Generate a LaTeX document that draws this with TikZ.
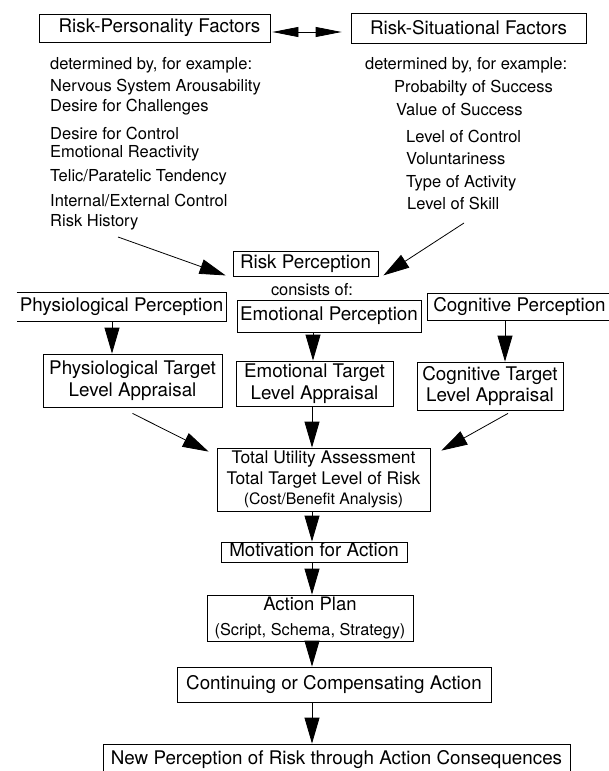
\documentclass[tikz,border=0pt]{standalone}
\usepackage{fontspec}
\setmainfont{TeX Gyre Heros}
\usetikzlibrary{arrows.meta,calc}
\begin{document}
\begin{tikzpicture}[x=1pt,y=-1pt,
  box/.style={draw, line width=0.8pt, inner sep=0pt, align=center,
    font=\fontsize{18.8}{21.5}\selectfont},
  lst/.style={anchor=west, inner sep=0pt, font=\fontsize{16.5}{18}\selectfont},
  arr/.style={line width=0.8pt, -{Triangle[length=26pt,width=15pt]}},
  dbl/.style={line width=0.8pt, {Triangle[length=26pt,width=10pt]}-{Triangle[length=26pt,width=10pt]}},
  sidesln/.style={line width=0.8pt}
]
\useasboundingbox (0,0) rectangle (609,771);
\fill[white] (0,0) rectangle (609,771);

% top boxes
\node[box, minimum width=231pt, minimum height=28pt] (RPF) at (154.5,28) {\hspace*{10pt}Risk-Personality Factors};
\node[box, minimum width=235pt, minimum height=30pt] (RSF) at (468.5,28) {Risk-Situational Factors};
\draw[dbl] ($(RPF.east)+(2,4)$) -- ($(RSF.west)+(-9,4)$);

% left list
\node[lst] (l0) at (50,65) {determined by, for example:};
\node[lst] (l1) at (50,87) {Nervous System Arousability};
\node[lst] (l2) at (50,107) {Desire for Challenges};
\node[lst] (l3) at (50,133) {Desire for Control};
\node[lst] (l4) at (50,153) {Emotional Reactivity};
\node[lst] (l5) at (50,177) {Telic/Paratelic Tendency};
\node[lst] (l6) at (50,200) {Internal/External Control};
\node[lst] (l7) at (50,222) {Risk History};

% right list
\node[lst] (r0) at (365,65) {determined by, for example:};
\node[lst] (r1) at (394,88) {Probabilty of Success};
\node[lst] (r2) at (396,109) {Value of Success};
\node[lst] (r3) at (406,136) {Level of Control};
\node[lst] (r4) at (406,159) {Voluntariness};
\node[lst] (r5) at (406,183) {Type of Activity};
\node[lst] (r6) at (407,203) {Level of Skill};

% risk perception
\node[box, minimum width=145pt, minimum height=25pt] (RP) at (305.5,263.5) {Risk Perception};
\node[inner sep=0pt, font=\fontsize{16.4}{18}\selectfont] (cons) at (312,290) {consists of:};

\coordinate (s1) at (118,237);
\coordinate (s2) at (464,223);
\draw[arr] (s1) -- ($(RP.south west)+(-7,-1)$);
\draw[arr] (s2) -- ($(RP.south east)+(5,-1)$);

% perception boxes
\node[box, draw=none, minimum width=209pt, minimum height=28pt] (PP) at (121.5,307) {Physiological Perception};
\draw[sidesln] (PP.north west) -- (PP.north east) -- (PP.south east) -- (PP.south west);
\node[box, minimum width=184pt, minimum height=32pt] (EP) at (329,316) {Emotional Perception};
\node[box, minimum width=185pt, minimum height=27pt] (CP) at (519.5,306.5) {Cognitive Perception};

% target level boxes
\node[box, minimum width=179pt, minimum height=53pt] (PT) at (132.5,380.5) {Physiological Target\\Level Appraisal};
\node[box, minimum width=157pt, minimum height=45pt] (ET) at (314.5,383.5) {Emotional Target\\Level Appraisal};
\node[box, minimum width=146pt, minimum height=48pt] (CT) at (490,386) {Cognitive Target\\Level Appraisal};

% total
\node[box, minimum width=213pt, minimum height=63pt, font=\fontsize{17.4}{20.5}\selectfont] (TU) at (323.5,479.5)
  {Total Utility Assessment\\Total Target Level of Risk\\{\fontsize{15.8}{20.5}\selectfont (Cost/Benefit Analysis)}};

\node[box, minimum width=186pt, minimum height=20pt, text height=13pt, text depth=4pt] (MA) at (314,552) {Motivation for Action};
\node[box, minimum width=206pt, minimum height=46pt, font=\fontsize{18.5}{25}\selectfont] (AP) at (310,618)
  {Action Plan\\{\fontsize{16.3}{25}\selectfont (Script, Schema, Strategy)}};
\node[box, minimum width=314pt, minimum height=35pt] (CC) at (334,684.5) {Continuing or Compensating Action};
\node[box, minimum width=467pt, minimum height=32pt] (NP) at (336.5,760) {New Perception of Risk through Action Consequences};

% vertical arrows
\coordinate (axL) at (112,0);
\coordinate (axC) at (312,0);
\coordinate (axE) at (313,0);
\coordinate (axR) at (505,0);
\draw[arr] (PP.south -| axL) -- (PT.north -| axL);
\draw[arr] (EP.south -| axE) -- (ET.north -| axE);
\draw[arr] (CP.south -| axR) -- (CT.north -| axR);
\draw[arr] (ET.south -| axC) -- (TU.north -| axC);
\draw[arr] (TU.south -| axC) -- (MA.north -| axC);
\draw[arr] (MA.south -| axC) -- (AP.north -| axC);
\draw[arr] (AP.south -| axC) -- (CC.north -| axC);
\draw[arr] (CC.south -| axC) -- (NP.north -| axC);

% diagonal arrows into total
\draw[arr] ($(PT.south)+(0,6)$) -- ($(TU.north west)+(-8,4)$);
\draw[arr] ($(CT.south)+(18,3)$) -- ($(TU.north east)+(11,3)$);
\end{tikzpicture}
\end{document}
